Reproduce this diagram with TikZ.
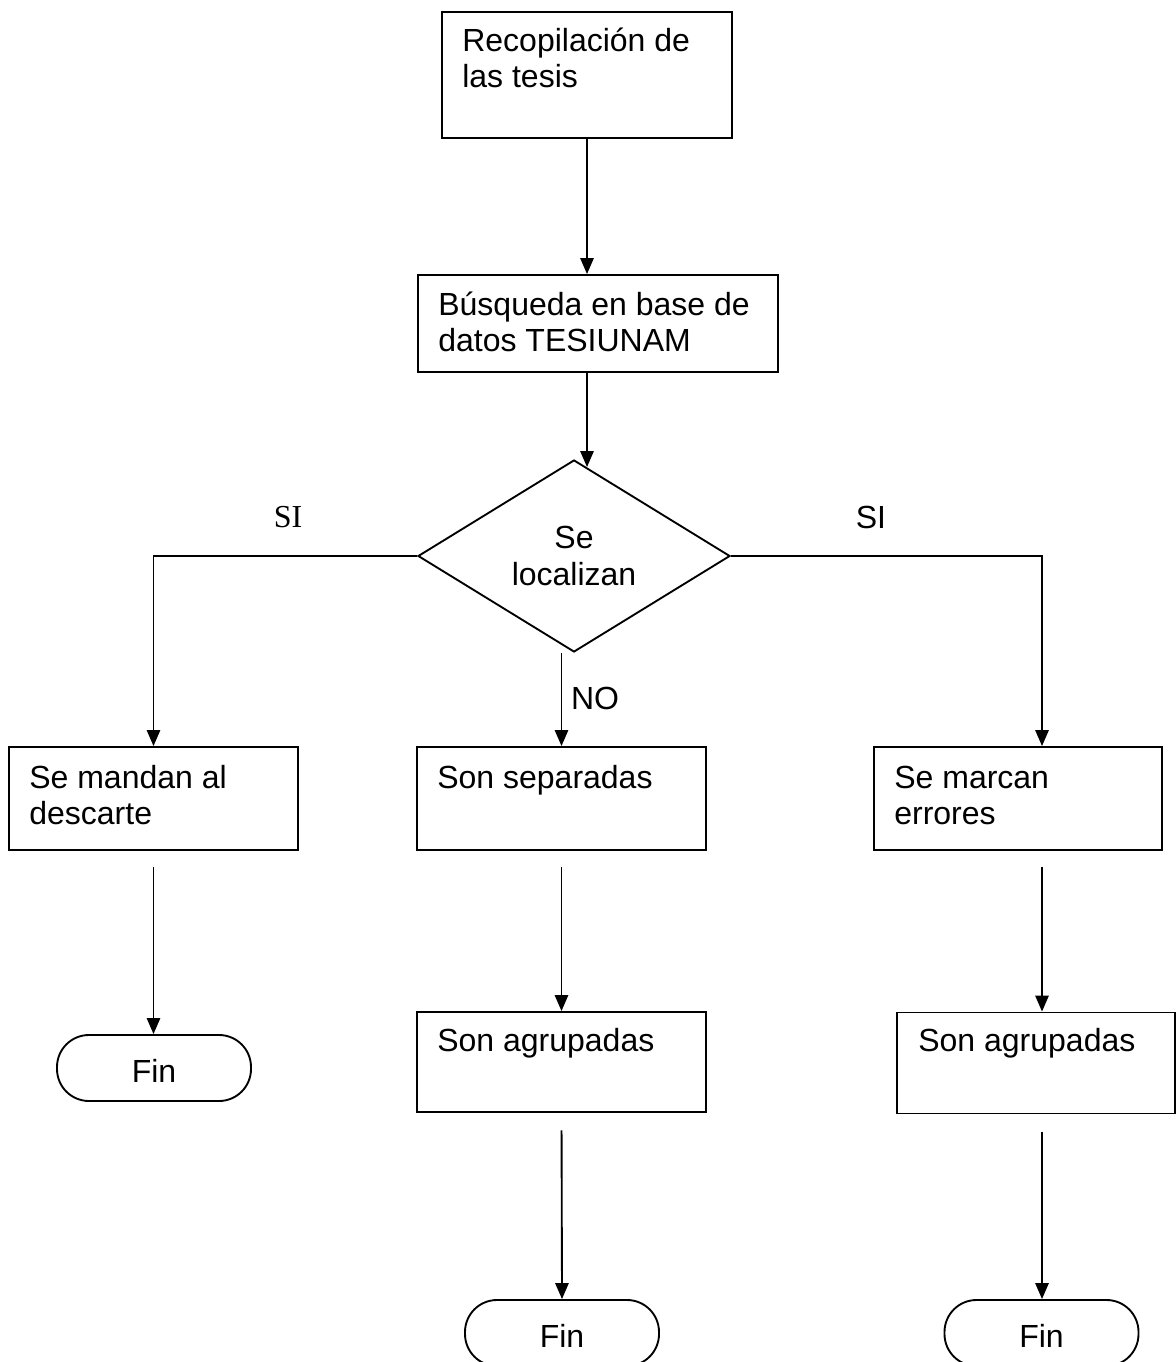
\documentclass[tikz,border=0pt]{standalone}
\usepackage{fontspec}
\setmainfont{Liberation Sans}
\newfontfamily\serifsi{Liberation Serif}
\usetikzlibrary{arrows.meta,shapes.geometric,calc}
\tikzset{
  box/.style={draw, line width=1.4pt, inner sep=0pt},
  term/.style={draw, line width=1.4pt, rounded corners=24pt, inner sep=0pt,
    minimum width=145.5pt, minimum height=49.5pt, text height=21.5pt, text depth=0pt,
    font=\fontsize{24}{27.6}\selectfont},
  dec/.style={draw, line width=1.4pt, diamond, aspect=1.625, inner sep=0pt,
    minimum width=234pt, minimum height=144pt, align=center,
    font=\fontsize{24}{27.6}\selectfont},
  txt/.style={inner sep=0pt, anchor=base west, font=\fontsize{24}{27.6}\selectfont},
  lbl/.style={inner sep=0pt, font=\fontsize{24}{27.6}\selectfont},
  arr/.style={line width=1.4pt, -{Triangle[width=10pt,length=12pt]}}
}
\begin{document}
\begin{tikzpicture}[x=0.75pt,y=-0.75pt]
\useasboundingbox (0,0) rectangle (1176,1362);
\clip (0,0) rectangle (1176,1362);
% boxes
\node[box, minimum width=217.5pt, minimum height=94.5pt] (b1) at (587,75) {};
\node[box, minimum width=270pt, minimum height=72.75pt] (b2) at (598,323.5) {};
\node[dec] (d) at (574,556) {Se\\localizan};
\node[box, minimum width=216.75pt, minimum height=77.25pt] (b3) at (153.5,798.5) {};
\node[box, minimum width=216.75pt, minimum height=77.25pt] (b4) at (561.5,798.5) {};
\node[box, minimum width=216pt, minimum height=77.25pt] (b5) at (1018,798.5) {};
\node[box, minimum width=216.75pt, minimum height=75pt] (b6) at (561.5,1062) {};
\node[box, minimum width=208.5pt, minimum height=75.75pt] (b7) at (1036,1063) {};
\node[term] (f1) at (154,1068) {Fin};
\node[term] (f2) at (562,1333) {Fin};
\node[term] (f3) at (1041.5,1333) {Fin};
% texts
\node[txt] (t1) at ($(b1.north west)+(21,40)$) {\begin{tabular}[t]{@{}l@{}}Recopilación de\\las tesis\end{tabular}};
\node[txt] (t2) at ($(b2.north west)+(21,41)$) {\begin{tabular}[t]{@{}l@{}}Búsqueda en base de\\datos TESIUNAM\end{tabular}};
\node[txt] (t3) at ($(b3.north west)+(21,42)$) {\begin{tabular}[t]{@{}l@{}}Se mandan al\\descarte\end{tabular}};
\node[txt] (t4) at ($(b4.north west)+(21,42)$) {Son separadas};
\node[txt] (t5) at ($(b5.north west)+(21,42)$) {\begin{tabular}[t]{@{}l@{}}Se marcan\\errores\end{tabular}};
\node[txt] (t6) at ($(b6.north west)+(21,40)$) {Son agrupadas};
\node[txt] (t7) at ($(b7.north west)+(22,40)$) {Son agrupadas};
% labels
\node[lbl, font=\serifsi\fontsize{24}{27.6}\selectfont] (si1) at (288,517) {SI};
\node[lbl] (si2) at (871,517) {SI};
\node[lbl] (no) at (595,698) {NO};
% connectors
\coordinate (r) at (1042,556);
\coordinate (dtop) at ($(b1.south |- d.north)+(0,8)$);
\draw[arr] (b1.south) -- (b1.south |- b2.north);
\draw[arr] (b1.south |- b2.south) -- (dtop);
\draw[arr] (d.west) -| (b3.north);
\draw[arr] (d.east) -- (r) -- (r |- b5.north);
\draw[arr] (b4.north |- d.south) -- (b4.north);
\draw[arr, shorten <=12pt] (b3.south) -- (b3.south |- f1.north);
\draw[arr, shorten <=12pt] (b4.south) -- (b6.north);
\draw[arr, shorten <=12pt] (r |- b5.south) -- (r |- b7.north);
\draw[arr, shorten <=13pt] (b6.south) -- (f2.north);
\draw[arr, shorten <=13pt] (r |- b7.south) -- (r |- f3.north);
\end{tikzpicture}
\end{document}
